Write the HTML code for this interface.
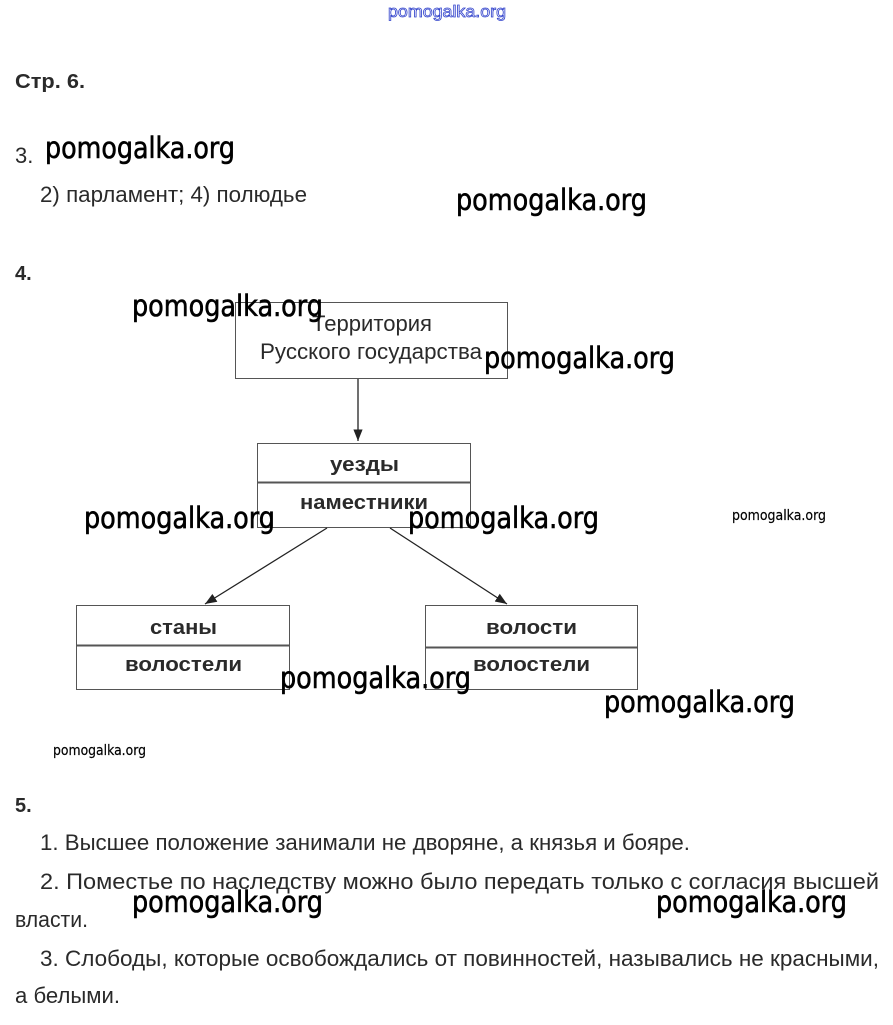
<!DOCTYPE html>
<html><head><meta charset="utf-8"><style>
html,body{margin:0;padding:0;background:#fff;width:893px;height:1025px;overflow:hidden}
svg{display:block}
.b{font-family:"Liberation Sans","Noto Sans CJK SC",sans-serif;fill:#2a2a2a;font-size:22px}
.bd{font-family:"Liberation Sans","Noto Sans CJK SC",sans-serif;fill:#2a2a2a;font-weight:bold}
.w{font-family:"DejaVu Sans","Liberation Sans",sans-serif;fill:#000;font-size:29px;stroke:#000;stroke-width:0.6}
.ws{font-family:"DejaVu Sans","Liberation Sans",sans-serif;fill:#000;font-size:14px;stroke:#000;stroke-width:0.2}
</style></head><body>
<svg width="893" height="1025" viewBox="0 0 893 1025" xmlns="http://www.w3.org/2000/svg">
<defs><marker id="a" viewBox="0 0 10 10" refX="10" refY="5" markerWidth="9" markerHeight="9" orient="auto-start-reverse"><path d="M0,1 L10,5 L0,9 z" fill="#222"/></marker></defs>
<text x="388" y="17" font-family="Liberation Sans,sans-serif" font-size="17" fill="#fff" stroke="#3344cc" stroke-width="0.8" textLength="118" lengthAdjust="spacingAndGlyphs">pomogalka.org</text>
<text class="bd" x="15" y="88" font-size="20" textLength="70" lengthAdjust="spacingAndGlyphs">Стр. 6.</text>
<text class="b" x="15" y="163">3.</text>
<text class="b" x="40" y="202" textLength="267" lengthAdjust="spacingAndGlyphs">2) парламент; 4) полюдье</text>
<text class="bd" x="15" y="280" font-size="20">4.</text>

<g stroke="#555" stroke-width="1" fill="none">
<rect x="235.5" y="302.5" width="272" height="76"/>
<rect x="257.5" y="443.5" width="213" height="84"/>
<line x1="257" y1="482.5" x2="471" y2="482.5" stroke-width="2"/>
<rect x="76.5" y="605.5" width="213" height="84"/>
<line x1="76" y1="645.5" x2="290" y2="645.5" stroke-width="2"/>
<rect x="425.5" y="605.5" width="212" height="84"/>
<line x1="425" y1="647.5" x2="638" y2="647.5" stroke-width="2"/>
</g>
<g stroke="#222" stroke-width="1.3">
<line x1="358" y1="379" x2="358" y2="441" marker-end="url(#a)"/>
<line x1="327" y1="528" x2="205" y2="604" marker-end="url(#a)"/>
<line x1="390" y1="528" x2="507" y2="604" marker-end="url(#a)"/>
</g>
<text class="b" x="312" y="331" textLength="120" lengthAdjust="spacingAndGlyphs">Территория</text>
<text class="b" x="260" y="359" textLength="222" lengthAdjust="spacingAndGlyphs">Русского государства</text>
<text class="bd" x="330" y="471" font-size="20" textLength="69" lengthAdjust="spacingAndGlyphs">уезды</text>
<text class="bd" x="300" y="509" font-size="20" textLength="128" lengthAdjust="spacingAndGlyphs">наместники</text>
<text class="bd" x="150" y="634" font-size="20" textLength="67" lengthAdjust="spacingAndGlyphs">станы</text>
<text class="bd" x="125" y="671" font-size="20" textLength="117" lengthAdjust="spacingAndGlyphs">волостели</text>
<text class="bd" x="486" y="634" font-size="20" textLength="91" lengthAdjust="spacingAndGlyphs">волости</text>
<text class="bd" x="473" y="671" font-size="20" textLength="117" lengthAdjust="spacingAndGlyphs">волостели</text>

<text class="bd" x="15" y="812" font-size="20">5.</text>
<text class="b" x="40" y="850" textLength="650" lengthAdjust="spacingAndGlyphs">1. Высшее положение занимали не дворяне, а князья и бояре.</text>
<text class="b" x="40" y="889" textLength="839" lengthAdjust="spacingAndGlyphs">2. Поместье по наследству можно было передать только с согласия высшей</text>
<text class="b" x="15" y="927" textLength="73" lengthAdjust="spacingAndGlyphs">власти.</text>
<text class="b" x="40" y="966" textLength="839" lengthAdjust="spacingAndGlyphs">3. Слободы, которые освобождались от повинностей, назывались не красными,</text>
<text class="b" x="15" y="1003" textLength="105" lengthAdjust="spacingAndGlyphs">а белыми.</text>

<text class="w" x="45" y="158" textLength="190" lengthAdjust="spacingAndGlyphs">pomogalka.org</text>
<text class="w" x="456" y="210" textLength="191" lengthAdjust="spacingAndGlyphs">pomogalka.org</text>
<text class="w" x="132" y="316" textLength="191" lengthAdjust="spacingAndGlyphs">pomogalka.org</text>
<text class="w" x="484" y="368" textLength="191" lengthAdjust="spacingAndGlyphs">pomogalka.org</text>
<text class="w" x="84" y="528" textLength="191" lengthAdjust="spacingAndGlyphs">pomogalka.org</text>
<text class="w" x="408" y="528" textLength="191" lengthAdjust="spacingAndGlyphs">pomogalka.org</text>
<text class="ws" x="732" y="520" textLength="94" lengthAdjust="spacingAndGlyphs">pomogalka.org</text>
<text class="w" x="280" y="688" textLength="191" lengthAdjust="spacingAndGlyphs">pomogalka.org</text>
<text class="w" x="604" y="712" textLength="191" lengthAdjust="spacingAndGlyphs">pomogalka.org</text>
<text class="ws" x="53" y="755" textLength="93" lengthAdjust="spacingAndGlyphs">pomogalka.org</text>
<text class="w" x="132" y="912" textLength="191" lengthAdjust="spacingAndGlyphs">pomogalka.org</text>
<text class="w" x="656" y="912" textLength="191" lengthAdjust="spacingAndGlyphs">pomogalka.org</text>
</svg>
</body></html>
